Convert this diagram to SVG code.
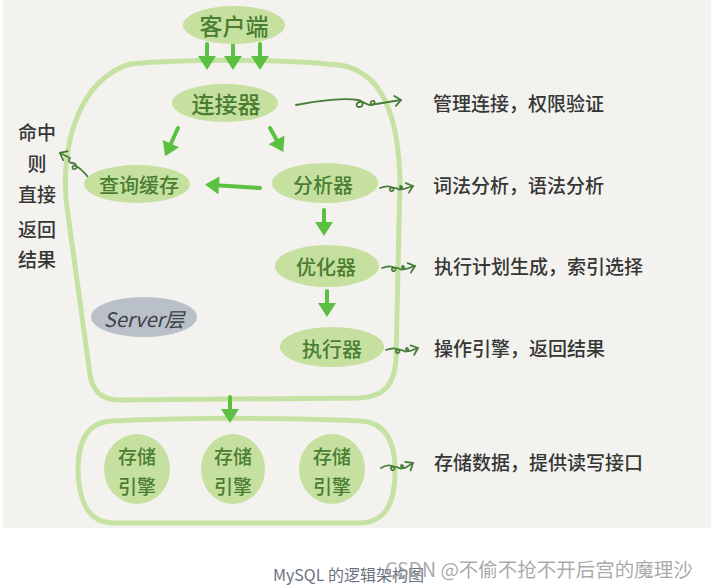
<svg xmlns="http://www.w3.org/2000/svg" width="711" height="587" viewBox="0 0 711 587">
<style>
.bg{fill:#f3f2ef}
.node{fill:#c5e09f}
.gray{fill:#b9c0c9}
.outline{fill:none;stroke:#c6e2a3;stroke-width:5;stroke-linejoin:round}
.nt{font-family:"Noto Sans CJK SC","Noto Sans",sans-serif;fill:#4a7d32;font-weight:500;text-anchor:middle;dominant-baseline:central}
.rt{font-family:"Noto Sans CJK SC","Noto Sans",sans-serif;fill:#353735;font-weight:500;font-size:19px;dominant-baseline:central}
.arrow{fill:none;stroke:#5cc043;stroke-width:4;stroke-linecap:round}
.wavy{fill:none;stroke:#467d38;stroke-width:1.8;stroke-linecap:round;stroke-linejoin:round}
</style>
<defs>
<marker id="ah" markerUnits="userSpaceOnUse" markerWidth="22" markerHeight="22" viewBox="-11 -11 22 22" refX="0" refY="0" orient="auto">
<path d="M-7,-9 L7,0 L-7,9 Z" fill="#5cc043"/>
</marker>
<marker id="ch" markerUnits="userSpaceOnUse" markerWidth="16" markerHeight="16" viewBox="-8 -8 16 16" refX="0" refY="0" orient="auto">
<path d="M-6,-5 L0,0 L-6,5" fill="none" stroke="#467d38" stroke-width="1.8" stroke-linecap="round" stroke-linejoin="round"/>
</marker>
</defs>
<rect class="bg" x="3" y="0" width="708" height="528"/>

<g id="server-outline">
<path class="outline" d="M130 64 C200 58 300 60 345 66 C380 75 398 110 400 180 L396 360 C394 385 385 396 360 398 L120 400 C100 400 93 390 90 375 L66 200 C62 140 80 80 130 64 Z"/>
</g>
<g id="storage-outline">
<path class="outline" d="M112 421 C200 417 300 418 362 421 C385 423 395 440 395 470 C395 505 385 522 360 523 L112 523 C90 522 79 505 78 470 C78 440 88 422 112 421 Z"/>
</g>

<g id="connectors">
<line class="arrow" x1="207" y1="44" x2="207" y2="63" marker-end="url(#ah)"/>
<line class="arrow" x1="233" y1="44" x2="233" y2="63" marker-end="url(#ah)"/>
<line class="arrow" x1="260" y1="44" x2="260" y2="63" marker-end="url(#ah)"/>
<line class="arrow" x1="178" y1="128" x2="168" y2="150" marker-end="url(#ah)"/>
<line class="arrow" x1="270" y1="128" x2="280" y2="146" marker-end="url(#ah)"/>
<line class="arrow" x1="260" y1="188" x2="212" y2="185" marker-end="url(#ah)"/>
<line class="arrow" x1="324" y1="210" x2="324" y2="229" marker-end="url(#ah)"/>
<line class="arrow" x1="327" y1="291" x2="327" y2="310" marker-end="url(#ah)"/>
<line class="arrow" x1="230" y1="397" x2="230" y2="416" marker-end="url(#ah)"/>
<path class="wavy" d="M296 105 C320 100 345 98 358 100 C364 101 364 107 359 107 C355 107 356 101 362 102 C367 103 368 106 372 105 C376 104 375 100 372 101 C369 102 371 106 376 104 L401 100" marker-end="url(#ch)"/>
<path class="wavy" d="M380 188 C385 186 390 186 393 188 C395 190 391 193 390 190 C389 187 395 187 398 189 C401 191 404 187 401 186 C399 186 400 190 404 189 L413 186" marker-end="url(#ch)"/>
<path class="wavy" d="M382 268 C387 266 392 266 395 268 C397 270 393 273 392 270 C391 267 397 267 400 269 C403 271 406 267 403 266 C401 266 402 270 406 269 L415 266" marker-end="url(#ch)"/>
<path class="wavy" d="M386 350 C391 348 396 348 399 350 C401 352 397 355 396 352 C395 349 401 349 404 351 C407 353 410 349 407 348 C405 348 406 352 410 351 L418 348" marker-end="url(#ch)"/>
<path class="wavy" d="M381 468 C386 465 391 465 394 467 C396 469 392 472 391 469 C390 466 396 466 399 468 C402 470 405 466 402 465 C400 465 401 469 405 468 L413 463" marker-end="url(#ch)"/>
<path class="wavy" d="M88 177 C84 172 80 168 76 166 C72 164 71 170 75 169 C78 168 76 163 72 163 C69 163 68 160 70 158 L60 153" marker-end="url(#ch)"/>
</g>

<g id="client">
<ellipse class="node" cx="234" cy="25" rx="51" ry="19"/>
<text class="nt" x="234" y="25" font-size="23">客户端</text>
</g>
<g id="connector">
<ellipse class="node" cx="225" cy="103" rx="53" ry="19"/>
<text class="nt" x="226" y="103" font-size="23">连接器</text>
</g>
<g id="query-cache">
<ellipse class="node" cx="137" cy="184" rx="53" ry="19"/>
<text class="nt" x="139" y="184" font-size="20">查询缓存</text>
</g>
<g id="analyzer">
<ellipse class="node" cx="325" cy="183" rx="53" ry="20"/>
<text class="nt" x="323" y="184" font-size="20">分析器</text>
</g>
<g id="optimizer">
<ellipse class="node" cx="327" cy="266" rx="52" ry="21"/>
<text class="nt" x="326" y="266" font-size="20">优化器</text>
</g>
<g id="executor">
<ellipse class="node" cx="332" cy="347" rx="52" ry="20"/>
<text class="nt" x="332" y="348" font-size="20">执行器</text>
</g>
<g id="server-label">
<ellipse class="gray" cx="144" cy="317" rx="53" ry="20"/>
<text x="144" y="318" font-size="20" fill="#3e4148" text-anchor="middle" dominant-baseline="central" font-family="'Noto Sans CJK SC','Noto Sans',sans-serif" font-style="italic">Server层</text>
</g>
<g id="engine1">
<ellipse class="node" cx="137" cy="469" rx="33" ry="35"/>
<text class="nt" x="137" y="455" font-size="19">存储</text>
<text class="nt" x="137" y="485" font-size="19">引擎</text>
</g>
<g id="engine2">
<ellipse class="node" cx="233" cy="469" rx="32" ry="35"/>
<text class="nt" x="233" y="455" font-size="19">存储</text>
<text class="nt" x="233" y="485" font-size="19">引擎</text>
</g>
<g id="engine3">
<ellipse class="node" cx="332" cy="469" rx="33" ry="35"/>
<text class="nt" x="332" y="455" font-size="19">存储</text>
<text class="nt" x="332" y="485" font-size="19">引擎</text>
</g>

<g id="notes">
<text class="rt" x="433" y="102">管理连接，权限验证</text>
<text class="rt" x="433" y="184">词法分析，语法分析</text>
<text class="rt" x="434" y="265">执行计划生成，索引选择</text>
<text class="rt" x="434" y="347">操作引擎，返回结果</text>
<text class="rt" x="434" y="461">存储数据，提供读写接口</text>
<text class="rt" x="37" y="131" text-anchor="middle" font-size="18">命中</text>
<text class="rt" x="37" y="162" text-anchor="middle" font-size="18">则</text>
<text class="rt" x="37" y="193" text-anchor="middle" font-size="18">直接</text>
<text class="rt" x="37" y="228" text-anchor="middle" font-size="18">返回</text>
<text class="rt" x="37" y="258" text-anchor="middle" font-size="18">结果</text>
</g>

<g id="caption">
<text x="273" y="574" font-size="16" fill="#6b7280" font-family="'Noto Sans CJK SC','Noto Sans',sans-serif" dominant-baseline="central">MySQL 的逻辑架构图</text>
<text x="385" y="568" font-size="19.5" fill="#9a9a9a" fill-opacity="0.85" font-family="'Noto Sans CJK SC','Noto Sans',sans-serif" dominant-baseline="central">CSDN @不偷不抢不开后宫的魔理沙</text>
</g>
</svg>
